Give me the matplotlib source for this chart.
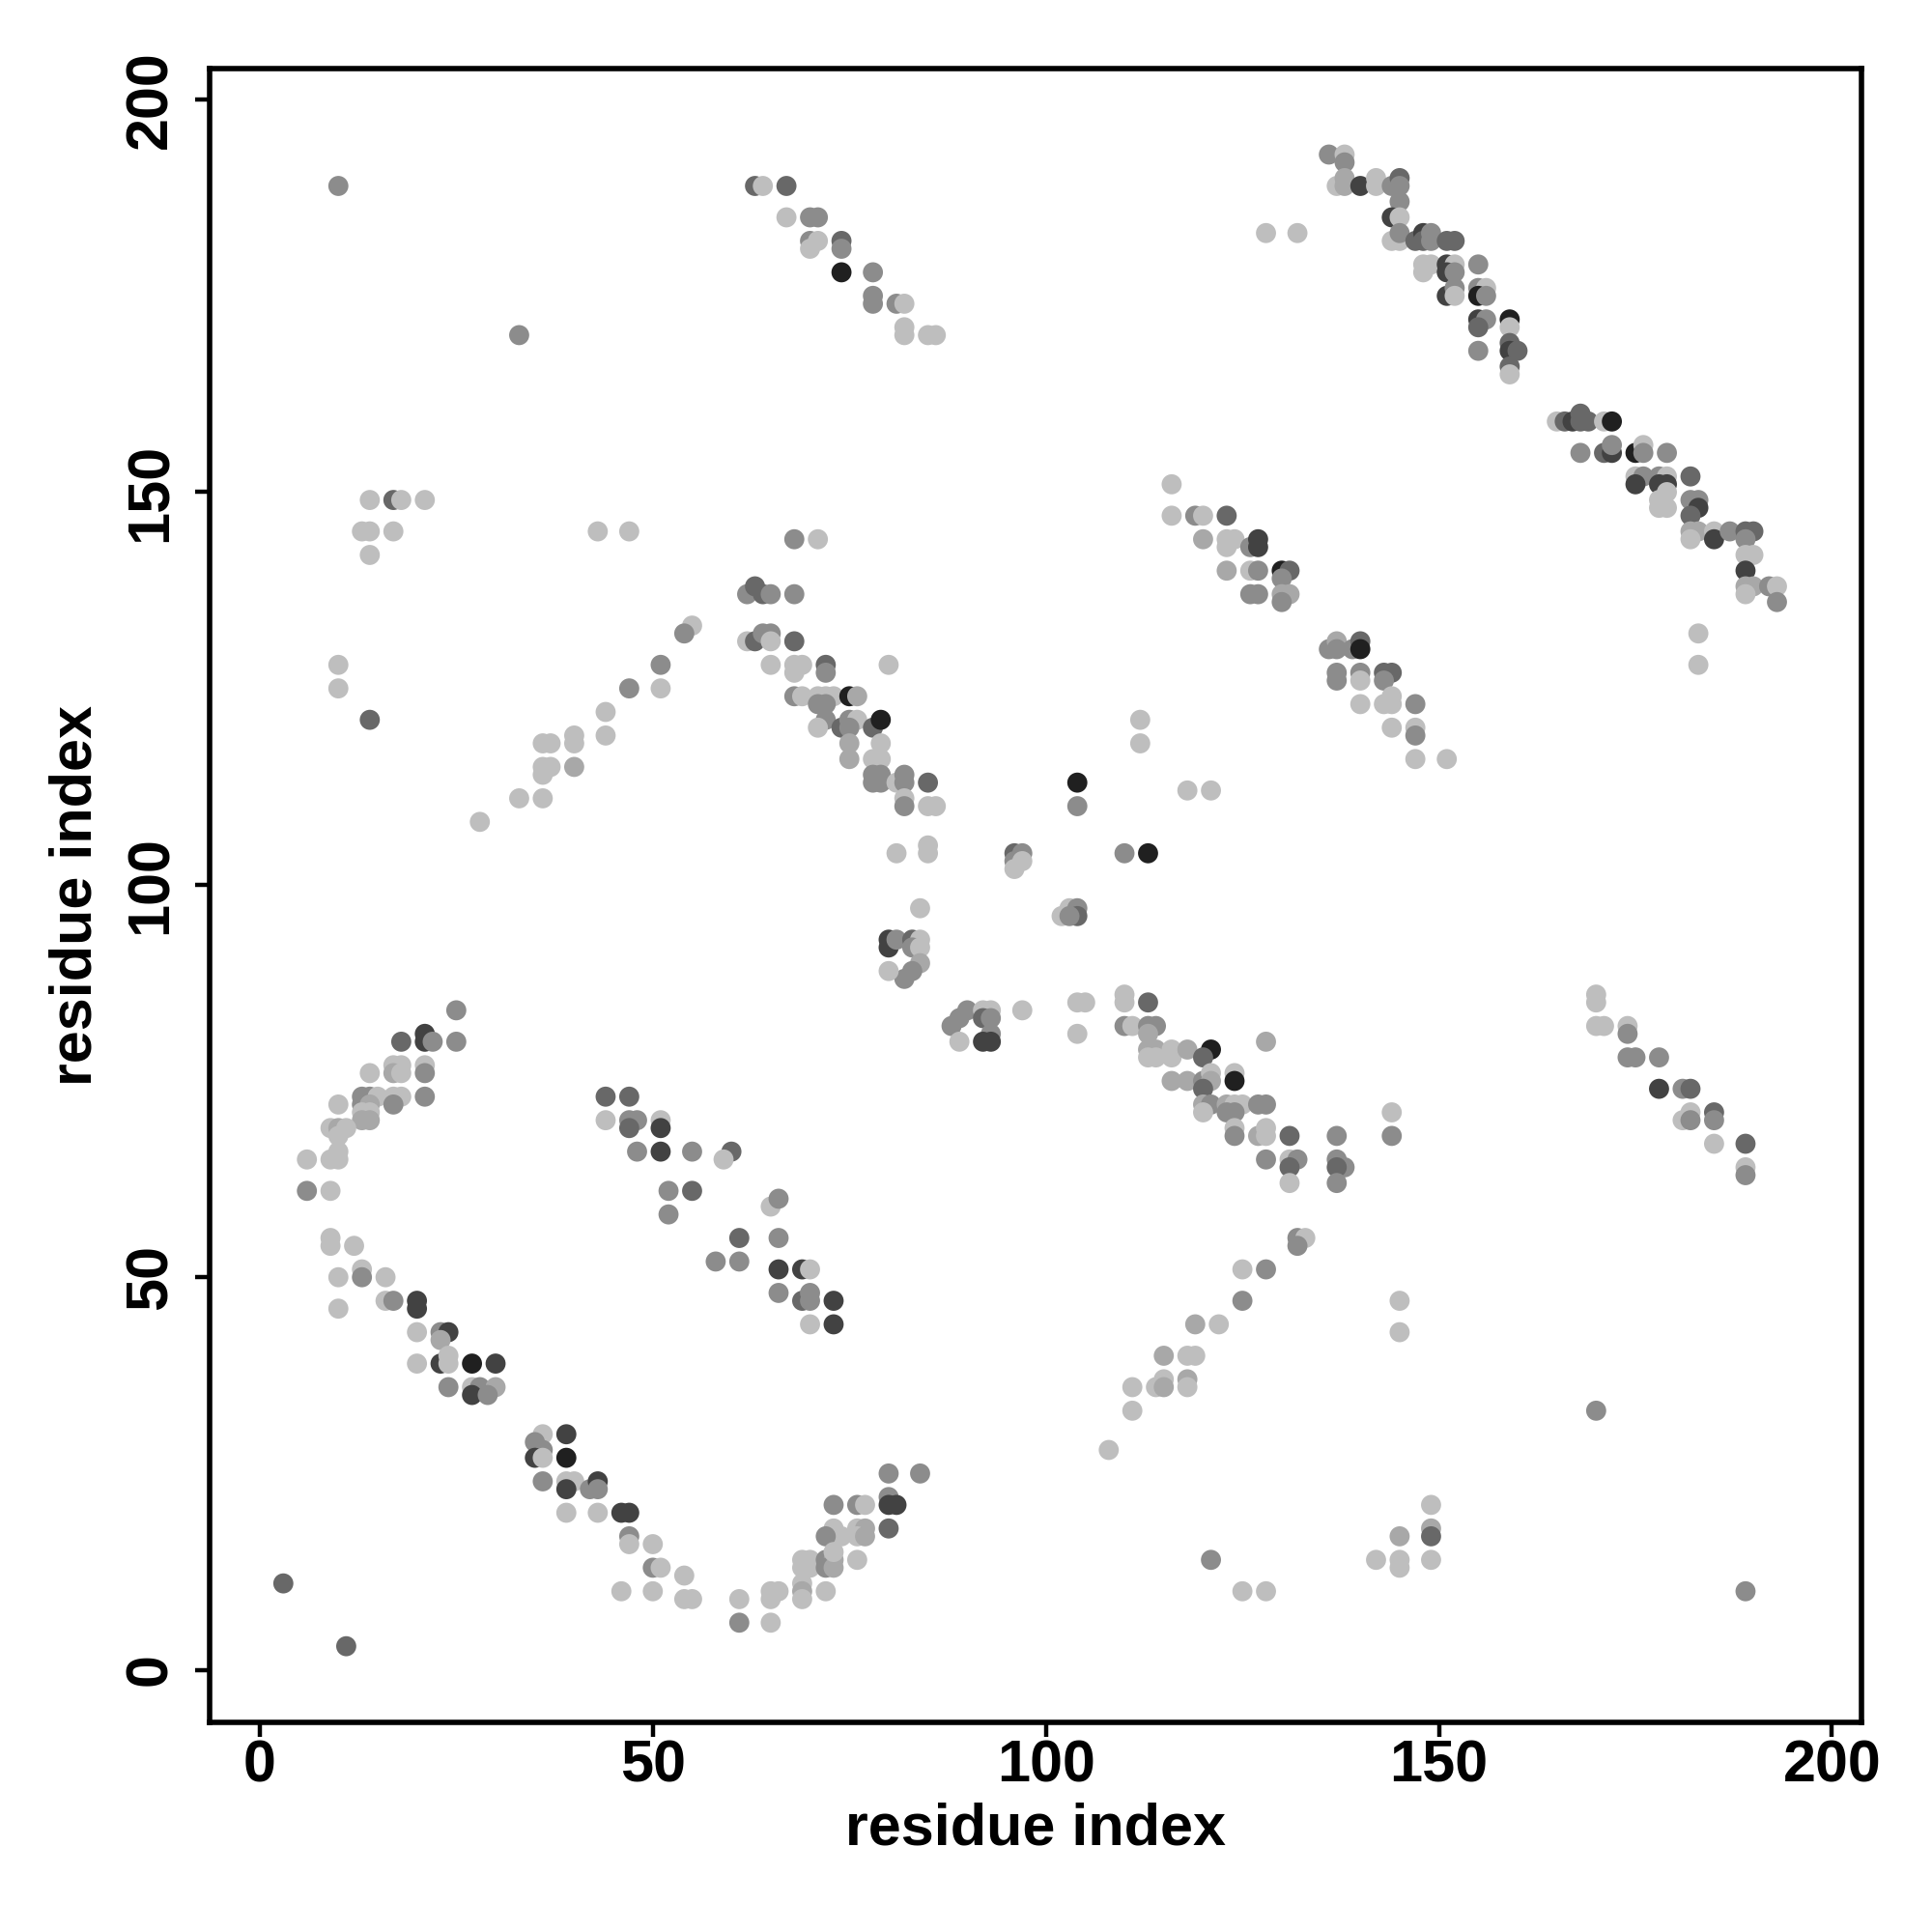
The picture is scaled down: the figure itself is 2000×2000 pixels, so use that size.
import matplotlib
matplotlib.use('Agg')
import matplotlib.pyplot as plt
from matplotlib.colors import ListedColormap

# contact map points: residue i, residue j, contact strength level (1 weak .. 6 strong)
pts = [
    # upper left
    (10,189,3),(33,170,3),(63,189,4),(64,189,1),
    (14,149,1),(17,149,4),(18,149,1),(21,149,1),
    (13,145,1),(14,145,1),(17,145,1),(43,145,1),(47,145,1),(14,142,1),
    (62,137,3),(63,138,4),(64,137,4),(65,137,3),(68,137,3),
    (55,133,1),(54,132,3),
    (62,131,1),(63,131,4),(64,132,3),(65,132,3),(65,131,1),(68,131,4),
    (10,128,1),(10,125,1),(51,128,3),(51,125,1),(47,125,3),(14,121,4),
    (44,122,1),(44,119,1),(40,119,1),(40,118,1),(36,118,1),(37,118,1),
    (36,115,1),(37,115,1),(36,114,1),(40,115,2),(33,111,1),(36,111,1),(28,108,1),
    # lower left
    (25,84,3),(18,80,4),(21,81,5),(21,80,5),(22,80,3),(25,80,3),
    (14,76,1),(17,77,1),(18,77,1),(17,76,2),(18,76,1),(21,77,1),(21,76,3),
    (13,73,3),(14,73,3),(15,73,1),(17,73,1),(18,73,1),(21,73,3),(13,72,3),(14,72,2),(17,72,3),
    (10,72,1),(13,71,1),(14,71,1),(13,70,2),(14,70,2),
    (9,69,1),(10,69,2),(11,69,1),(10,68,1),(10,66,1),(6,65,1),(9,65,1),(10,65,1),
    (6,61,3),(9,61,1),(9,55,1),(9,54,1),(12,54,1),
    (10,50,1),(13,51,1),(13,50,3),(16,50,1),(10,46,1),(16,47,1),(17,47,3),(20,47,5),(20,46,5),
    (44,73,4),(47,73,4),(44,70,1),(47,70,3),(48,70,3),(51,70,1),(47,69,4),(51,69,5),
    (48,66,3),(51,66,5),(55,66,3),(60,66,4),(59,65,1),(52,61,3),(55,61,4),(52,58,3),
    (61,55,4),(58,52,3),(61,52,3),(65,59,1),(66,60,3),
    (20,43,1),(23,43,3),(24,43,5),(23,42,2),
    (20,39,1),(23,39,5),(24,39,1),(24,40,1),(27,39,6),(30,39,5),
    (24,36,3),(27,36,1),(28,36,3),(30,36,2),(27,35,5),(29,35,3),
    (36,30,1),(39,30,5),(35,29,3),(36,28,3),(35,27,5),(36,27,1),(39,27,6),
    (36,24,3),(39,24,1),(40,24,1),(39,23,5),(42,23,3),(43,24,5),(43,23,3),
    (39,20,1),(43,20,1),(46,20,5),(47,20,5),(47,17,3),(47,16,1),(50,16,1),
    (50,13,3),(51,13,1),(54,12,1),(46,10,1),(50,10,1),(54,9,1),(55,9,1),
    (61,9,1),(61,6,3),(65,10,1),(66,10,1),(65,9,1),(65,6,1),(3,11,4),(11,3,4),
    # lower middle
    (70,44,1),(73,44,5),(115,40,2),(118,40,1),(119,40,1),(119,44,2),(122,44,1),
    (111,36,1),(114,36,1),(115,37,1),(115,36,2),(118,37,2),(118,36,1),
    (111,33,1),(108,28,1),(121,14,3),(125,10,1),(128,10,1),
    (80,25,3),(84,25,3),(80,22,3),(80,21,5),(81,21,5),(73,21,3),(76,21,3),(77,21,1),
    (80,18,4),(73,18,1),(74,17,1),(72,17,3),(76,18,1),(77,18,2),(76,17,1),(77,17,2),
    (69,14,1),(70,14,1),(69,13,1),(70,13,1),(72,14,3),(73,14,2),(72,13,3),(73,13,2),(73,15,1),(76,14,1),
    (69,11,1),(69,10,2),(69,9,1),(72,10,1),
    # lower right
    (145,43,1),(170,33,3),(149,21,1),(149,18,2),(149,17,4),(145,17,2),
    (142,14,1),(145,14,1),(145,13,1),(149,14,1),(189,10,3),
    (144,71,1),(144,68,3),(137,68,3),(137,65,3),(138,64,3),(137,64,4),(137,62,3),(145,47,1),
    (170,86,1),(170,85,1),(170,82,1),(171,82,1),(174,82,1),(174,81,3),
    (174,78,3),(175,78,3),(178,78,3),(178,74,5),(181,74,3),(182,74,4),
    (181,70,1),(182,71,1),(182,70,3),(185,71,4),(185,70,3),
    (185,67,1),(189,67,4),(189,64,1),(189,63,3),
    # centre
    (84,97,1),(102,96,1),(103,97,1),(104,97,3),(104,96,4),(103,96,3),
    (80,93,5),(80,92,5),(81,93,3),(83,93,4),(84,93,1),(83,92,3),(84,92,1),
    (84,90,2),(83,89,3),(82,88,3),(80,89,1),(97,84,1),
    (88,82,3),(89,83,3),(90,84,3),(89,80,1),
    (92,84,1),(93,84,1),(92,83,4),(93,83,3),(93,81,3),(92,80,5),(93,80,5),
    (104,85,1),(105,85,1),(104,81,1),(110,86,1),(110,85,1),(113,85,4),
    (110,82,3),(111,82,1),(113,82,3),(114,82,3),(113,81,2),
    (113,79,2),(114,79,2),(113,78,1),(114,78,1),(116,79,1),(116,78,1),(118,79,2),(121,79,6),(120,78,4),
    (116,75,2),(118,75,2),(120,75,3),(121,76,1),(121,75,2),(120,74,4),(124,76,1),(124,75,6),
    (120,72,2),(121,72,3),(120,71,1),(123,72,2),(124,72,1),(125,72,1),(123,71,3),(124,71,3),(127,72,3),(128,72,3),
    (124,69,1),(124,68,3),(127,68,2),(128,69,1),(128,68,1),(131,68,4),
    (128,65,3),(131,65,1),(132,65,3),(131,64,4),(131,62,1),(128,80,2),
    (66,55,3),(66,51,5),(69,51,5),(70,51,1),
    (66,48,3),(69,47,4),(70,48,3),(70,47,3),(73,47,5),
    (132,55,3),(133,55,1),(132,54,3),(125,51,1),(128,51,3),(125,47,3),
    # upper middle
    (116,147,1),(119,147,3),(120,147,1),(123,147,4),
    (120,144,2),(123,144,1),(124,144,1),(123,143,1),(126,143,3),(127,144,5),(127,143,5),
    (123,140,2),(126,140,1),(127,140,3),(130,140,6),(131,140,4),(130,139,3),
    (126,137,3),(127,137,3),(130,137,2),(131,137,2),(130,136,3),
    (68,144,3),(71,144,1),
    (65,128,1),(68,128,1),(68,127,1),(69,128,1),(72,128,4),(72,127,3),(80,128,1),
    (68,124,3),(69,124,1),(71,124,1),(72,124,1),(73,124,1),(75,124,6),(76,124,2),(71,123,3),(72,123,3),
    (72,121,3),(71,120,1),(74,120,4),(75,121,3),(76,121,1),(75,120,3),(78,120,4),(79,121,6),
    (75,118,2),(75,116,2),(79,118,1),(78,116,1),(79,116,1),
    (78,114,3),(79,114,3),(78,113,3),(79,113,3),(81,113,1),(82,114,3),(82,113,3),(85,113,4),
    (82,111,1),(82,110,3),(85,110,1),(86,110,1),
    (112,121,1),(112,118,1),(104,113,6),(104,110,3),(118,112,1),(121,112,1),
    (81,104,1),(85,105,1),(85,104,1),
    (96,104,4),(96,103,3),(96,102,1),(97,104,3),(97,103,1),(110,104,3),(113,104,6),
    (67,189,4),(67,185,1),(70,185,3),(71,185,3),
    (70,182,3),(71,182,1),(70,181,1),(74,182,4),(74,181,3),(74,178,6),(78,178,3),
    (78,175,3),(78,174,3),(81,174,3),(82,174,1),(82,171,1),(82,170,1),(85,170,1),(86,170,1),
    (128,183,1),(132,183,1),(116,151,1),
    # upper right diagonal
    (136,193,3),(138,193,1),(138,192,3),
    (137,189,1),(138,190,2),(138,189,2),(140,189,5),(142,190,1),(142,189,1),(144,189,3),(145,190,4),(145,189,3),
    (145,187,3),(144,185,5),(145,185,1),
    (144,182,1),(145,182,1),(145,183,3),(147,182,4),(148,183,5),(148,182,4),(149,183,3),(149,182,3),(151,182,4),(152,182,4),
    (148,179,1),(149,179,1),(148,178,1),(151,179,5),(152,179,1),(151,178,5),(152,178,3),(155,179,3),
    (151,175,5),(152,176,3),(152,175,1),(155,176,3),(156,176,1),(155,175,6),(156,175,3),
    (155,172,5),(156,172,3),(155,171,4),(159,172,6),(159,171,1),
    (155,168,3),(159,169,4),(159,168,5),(160,168,4),(159,166,4),(159,165,1),
    (165,159,1),(166,159,4),(167,159,5),(168,160,4),(168,159,4),(169,159,4),(171,159,1),(172,159,6),
    (168,155,3),(171,155,4),(172,155,5),(172,156,3),(175,155,6),(176,156,1),(176,155,3),(179,155,3),
    (175,152,1),(176,152,3),(175,151,5),(178,152,3),(179,152,1),(178,151,5),(179,151,5),(182,152,4),
    (178,149,1),(179,150,1),(182,149,3),(183,149,3),(183,148,5),(182,147,4),(178,148,1),(179,148,1),
    (182,145,2),(183,145,2),(185,145,1),(185,144,5),(187,145,3),(189,145,4),(190,145,4),
    (182,144,1),(189,144,3),(189,142,1),(190,142,1),(189,140,5),
    (189,138,2),(190,138,2),(189,137,1),(192,138,3),(193,138,1),(193,136,3),
    (183,132,1),(183,128,1),
    (136,130,3),(137,131,2),(137,130,3),(139,130,3),(140,131,4),(140,130,6),
    (137,127,3),(137,126,3),(140,127,3),(140,126,1),(143,127,4),(144,127,4),(143,126,3),
    (140,123,1),(143,123,1),(144,124,1),(144,123,1),(147,123,3),
    (144,120,1),(147,120,1),(147,119,3),(147,116,1),(151,116,1),
]

res_i = [p[0] for p in pts]
res_j = [p[1] for p in pts]
strength = [p[2] for p in pts]

ticks = [0, 50, 100, 150, 200]

plt.rcParams['font.family'] = ['Liberation Sans', 'DejaVu Sans']

grays = ListedColormap(['#bebebe', '#a8a8a8', '#8c8c8c', '#686868', '#424242', '#202020'])

fig = plt.figure(figsize=(10, 10), dpi=200)
ax = fig.add_axes([0.1084, 0.1085, 0.8553, 0.8558])

ax.scatter(res_i, res_j, c=strength, cmap=grays, vmin=0.5, vmax=6.5,
           s=56, linewidths=0, zorder=2)

ax.set_xlim(-6.4, 203.8)
ax.set_ylim(-6.7, 203.9)
ax.set_xticks(ticks)
ax.set_yticks(ticks)

for sp in ax.spines.values():
    sp.set_linewidth(2.0)

ax.tick_params(axis='both', length=5.4, width=1.6, labelsize=22, direction='out')
ax.tick_params(axis='x', pad=1)
ax.tick_params(axis='y', pad=6, labelrotation=90)
for lab in ax.get_xticklabels() + ax.get_yticklabels():
    lab.set_fontweight('bold')
for lab in ax.get_yticklabels():
    lab.set_va('center')

ax.set_xlabel('residue index', fontsize=22, fontweight='bold')
ax.set_ylabel('residue index', fontsize=22, fontweight='bold')
ax.xaxis.set_label_coords(0.5, -0.0649)
ax.xaxis.label.set_va('center')
ax.yaxis.set_label_coords(-0.0806, 0.5)
ax.yaxis.label.set_va('center')

fig.savefig('out.png', dpi=200)
print("saved out.png")
